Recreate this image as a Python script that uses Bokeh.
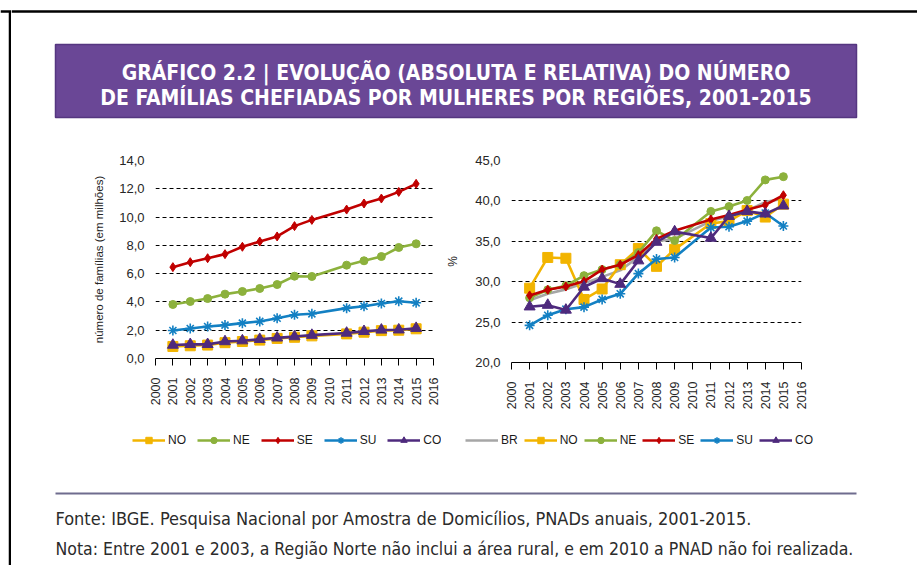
from math import pi
from bokeh.plotting import figure
from bokeh.layouts import column, row
from bokeh.models import (Range1d, FixedTicker, CustomJSTickFormatter, Legend, LegendItem)
from bokeh.core.properties import value
from bokeh.embed import file_html
from bokeh.resources import INLINE

# ---------------- data ----------------
years = [2001, 2002, 2003, 2004, 2005, 2006, 2007, 2008, 2009,
         2011, 2012, 2013, 2014, 2015]
year_ticks = [2000, 2001, 2002, 2003, 2004, 2005, 2006, 2007, 2008,
              2009, 2010, 2011, 2012, 2013, 2014, 2015, 2016]
abs_ticks = [0, 2, 4, 6, 8, 10, 12, 14]
pct_ticks = [20, 25, 30, 35, 40, 45]

# absolute (millions)
no_abs = [0.85, 0.90, 0.95, 1.12, 1.20, 1.30, 1.42, 1.50, 1.60, 1.74, 1.86, 1.97, 2.00, 2.10]
ne_abs = [3.82, 4.03, 4.24, 4.55, 4.74, 4.95, 5.23, 5.82, 5.80, 6.60, 6.91, 7.21, 7.85, 8.11]
se_abs = [6.46, 6.81, 7.09, 7.38, 7.90, 8.27, 8.63, 9.36, 9.80, 10.53, 10.96, 11.31, 11.78, 12.35]
su_abs = [1.98, 2.12, 2.26, 2.36, 2.50, 2.62, 2.85, 3.09, 3.16, 3.56, 3.70, 3.89, 4.05, 3.94]
co_abs = [0.95, 1.00, 1.00, 1.20, 1.26, 1.36, 1.46, 1.55, 1.65, 1.80, 1.92, 2.02, 2.03, 2.14]

# relative (%)
br_pct = [27.7, 28.5, 29.05, 29.8, 30.6, 31.4, 33.05, 35.0, 35.3, 37.5, 38.1, 38.8, 39.85, 40.3]
no_pct = [29.2, 33.0, 32.9, 27.8, 29.1, 32.1, 34.1, 31.9, 34.0, 37.2, 37.5, 38.8, 38.0, 39.6]
ne_pct = [28.0, 29.0, 29.5, 30.75, 31.5, 32.1, 33.6, 36.3, 35.1, 38.7, 39.3, 40.05, 42.6, 43.0]
se_pct = [28.3, 29.0, 29.4, 30.05, 31.5, 32.1, 33.3, 35.3, 36.3, 37.7, 38.25, 38.9, 39.5, 40.7]
su_pct = [24.6, 25.85, 26.6, 26.85, 27.8, 28.5, 31.0, 32.8, 33.0, 36.7, 36.8, 37.5, 38.5, 36.9]
co_pct = [26.9, 27.1, 26.5, 29.35, 30.4, 29.7, 32.6, 34.9, 36.2, 35.4, 38.1, 38.7, 38.4, 39.4]

left_keys = ["NO", "NE", "SE", "SU", "CO"]
right_keys = ["BR", "NO", "NE", "SE", "SU", "CO"]

title_lines = ["GRÁFICO 2.2 | EVOLUÇÃO (ABSOLUTA E RELATIVA) DO NÚMERO",
               "DE FAMÍLIAS CHEFIADAS POR MULHERES POR REGIÕES, 2001-2015"]
footer_lines = ["Fonte: IBGE. Pesquisa Nacional por Amostra de Domicílios, PNADs anuais, 2001-2015.",
                "Nota: Entre 2001 e 2003, a Região Norte não inclui a área rural, e em 2010 a PNAD não foi realizada."]

# ---------------- styles ----------------
C = {"BR": "#a6a6a6", "NO": "#f2b400", "NE": "#8cb13c", "SE": "#c00000",
     "SU": "#1380c3", "CO": "#4e2a7d"}
MK = {"BR": None, "NO": "square", "NE": "circle", "SE": "diamond",
      "SU": "asterisk", "CO": "triangle"}
MS = {"NO": 10, "NE": 8, "SE": 9, "SU": 10, "CO": 11}
FONT = "Liberation Sans"
COND = "DejaVu Sans Condensed"
TXT = "#262626"

STRIP_W = 11
MAIN_W = 917 - STRIP_W
LEFT_W = 430
RIGHT_W = MAIN_W - LEFT_W
HDR_H = 140
LG_H = 35
FT_H = 105


def style_chart(p, ticks, ylabel):
    p.outline_line_color = None
    p.background_fill_color = "white"
    p.border_fill_color = "white"
    xa = p.xaxis[0]
    xa.ticker = FixedTicker(ticks=year_ticks)
    xa.major_label_orientation = pi / 2
    xa.major_tick_in = 0
    xa.major_tick_out = 7
    xa.minor_tick_line_color = None
    xa.axis_line_color = "black"
    xa.major_tick_line_color = "black"
    xa.major_label_standoff = 12
    xa.major_label_text_font = FONT
    xa.major_label_text_font_size = "12.5px"
    xa.major_label_text_color = TXT
    ya = p.yaxis[0]
    ya.ticker = FixedTicker(ticks=ticks)
    ya.formatter = CustomJSTickFormatter(code="return tick.toFixed(1).replace('.', ',');")
    ya.axis_line_color = None
    ya.major_tick_line_color = None
    ya.major_tick_out = 0
    ya.major_tick_in = 0
    ya.minor_tick_line_color = None
    ya.major_label_standoff = 11
    ya.major_label_text_font = FONT
    ya.major_label_text_font_size = "13px"
    ya.major_label_text_color = TXT
    ya.axis_label = ylabel
    ya.axis_label_text_font = FONT
    ya.axis_label_text_font_size = "11.5px"
    ya.axis_label_text_font_style = "normal"
    ya.axis_label_text_color = TXT
    ya.axis_label_standoff = 11
    p.xgrid.visible = False
    p.ygrid.grid_line_color = "black"
    p.ygrid.grid_line_dash = "4 3"
    p.ygrid.grid_line_width = 1


def draw_series(p, key, xs, ys):
    ln = p.line(xs, ys, line_color=C[key], line_width=2.6)
    rs = [ln]
    if MK[key] is not None:
        if MK[key] == "asterisk":
            sc = p.scatter(xs, ys, marker="asterisk", size=MS[key],
                           line_color=C[key], line_width=1.6)
        else:
            sc = p.scatter(xs, ys, marker=MK[key], size=MS[key],
                           fill_color=C[key], line_color=C[key], line_width=1)
        rs.append(sc)
    return LegendItem(label=key, renderers=rs)


def deco_fig(w, h):
    f = figure(width=w, height=h, x_range=Range1d(0, w), y_range=Range1d(h, 0),
               output_backend="svg", toolbar_location=None, min_border=0,
               x_axis_location=None, y_axis_location=None, outline_line_color=None)
    f.grid.visible = False
    return f


def legend_fig(w, keys, series, loc, spacing):
    # legend-only panel: the series are outside its (pixel) ranges, only the key shows
    f = deco_fig(w, LG_H)
    items = [draw_series(f, k, years, v) for k, v in zip(keys, series)]
    f.add_layout(Legend(items=items, orientation="horizontal", location=loc,
                        glyph_width=33, glyph_height=16, label_height=16, label_width=10,
                        label_standoff=3, spacing=spacing, padding=0, margin=0,
                        border_line_color=None, background_fill_alpha=0,
                        label_text_font=FONT, label_text_font_size="12px",
                        label_text_color="#1a1a1a"), "center")
    return f


left_series = [no_abs, ne_abs, se_abs, su_abs, co_abs]
right_series = [br_pct, no_pct, ne_pct, se_pct, su_pct, co_pct]

# ---------------- left frame strip ----------------
strip = deco_fig(STRIP_W, 565)
strip.segment(x0=[0, 9.5], y0=[11, 11], x1=[STRIP_W, 9.5], y1=[11, 565],
              line_color="black", line_width=2.5)

# ---------------- header ----------------
hdr = deco_fig(MAIN_W, HDR_H)
hdr.segment(x0=[0], y0=[11], x1=[MAIN_W], y1=[11], line_color="black", line_width=2.5)
hdr.quad(left=[44], right=[845], top=[44], bottom=[117],
         fill_color="#6a4796", line_color="#553680", line_width=1.5)
hdr.text(x=[444.5, 444.5], y=[72, 97], text=title_lines,
         text_align="center", text_baseline="middle",
         text_font=value(COND), text_font_style="bold",
         text_font_size="21px", text_color="white")

# ---------------- left chart ----------------
p1 = figure(x_range=Range1d(2000, 2016), y_range=Range1d(0, 14),
            frame_width=278, frame_height=198,
            min_border_left=144, min_border_right=LEFT_W - 144 - 278,
            min_border_top=20, min_border_bottom=67,
            output_backend="svg", toolbar_location=None)
style_chart(p1, abs_ticks, "número de famílias (em milhões)")
for k, v in zip(left_keys, left_series):
    draw_series(p1, k, years, v)

# ---------------- right chart ----------------
p2 = figure(x_range=Range1d(2000, 2016), y_range=Range1d(20, 45),
            frame_width=290, frame_height=202,
            min_border_left=70, min_border_right=RIGHT_W - 70 - 290,
            min_border_top=18, min_border_bottom=65,
            output_backend="svg", toolbar_location=None)
style_chart(p2, pct_ticks, "%")
p2.yaxis[0].axis_label_text_font_size = "12px"
p2.yaxis[0].axis_label_standoff = 12
for k, v in zip(right_keys, right_series):
    draw_series(p2, k, years, v)

# ---------------- legends ----------------
lg1 = legend_fig(LEFT_W, left_keys, left_series, (121, 12), 11)
lg2 = legend_fig(RIGHT_W, right_keys, right_series, (24, 12), 6)

# ---------------- footer ----------------
ftr = deco_fig(MAIN_W, FT_H)
ftr.segment(x0=[44], y0=[33], x1=[845], y1=[33], line_color="#6f6c8e", line_width=2)
ftr.text(x=[44], y=[58], text=[footer_lines[0]], text_align="left",
         text_baseline="middle", text_font=value(COND),
         text_font_size="18px", text_color="#2b2b2b")
ftr.text(x=[44], y=[88], text=[footer_lines[1]], text_align="left",
         text_baseline="middle", text_font=value(COND),
         text_font_size="17.5px", text_color="#2b2b2b")

layout = row(strip, column(hdr, row(p1, p2), row(lg1, lg2), ftr))

open("out.html", "w").write(file_html(layout, INLINE))
